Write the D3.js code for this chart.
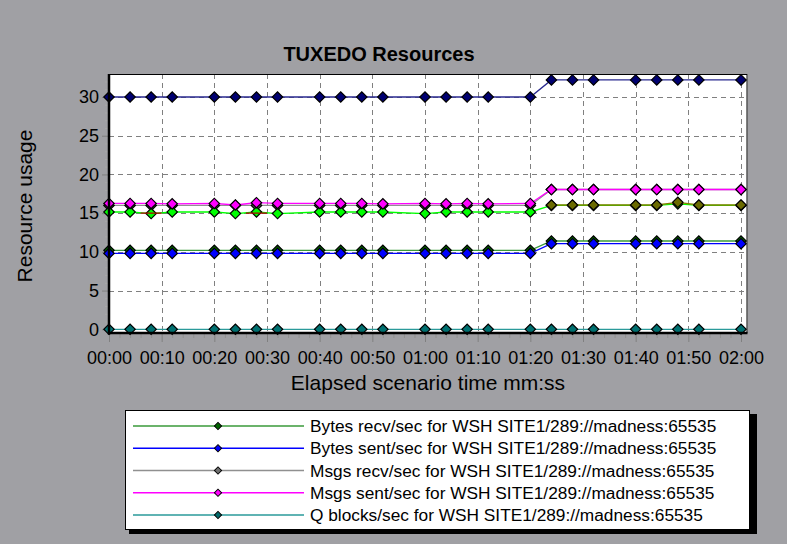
<!DOCTYPE html>
<html><head><meta charset="utf-8">
<script src="https://cdn.jsdelivr.net/npm/d3@7"></script>
<style>html,body{margin:0;padding:0;background:#a0a0a4;}svg{display:block;}text{font-family:Arial,"Liberation Sans",sans-serif;}</style>
</head><body>
<svg id="chart" width="787" height="544"></svg>
<script>
// ---- data ----
const times = [0,4,8,12,20,24,28,32,40,44,48,52,60,64,68,72,80,84,88,92,100,104,108,112,120];
const qBlocks   = [0,0,0,0,0,0,0,0,0,0,0,0,0,0,0,0,0,0,0,0,0,0,0,0,0];
const bytesRecv = [10.2,10.2,10.2,10.2,10.2,10.2,10.2,10.2,10.2,10.2,10.2,10.2,10.2,10.2,10.2,10.2,10.2,11.4,11.4,11.4,11.4,11.4,11.4,11.4,11.4];
const bytesSent = [9.8,9.8,9.8,9.8,9.8,9.8,9.8,9.8,9.8,9.8,9.8,9.8,9.8,9.8,9.8,9.8,9.8,11.05,11.05,11.05,11.05,11.05,11.05,11.05,11.05];
const msgsRecv  = [16.0,16.0,16.0,16.0,16.0,16.0,16.0,16.0,16.0,16.0,16.0,16.0,16.0,16.0,16.0,16.0,16.0,18.05,18.05,18.05,18.05,18.05,18.05,18.05,18.05];
const msgsSent  = [16.25,16.25,16.25,16.2,16.25,16.05,16.35,16.25,16.25,16.25,16.25,16.2,16.25,16.2,16.25,16.2,16.25,18.05,18.05,18.05,18.05,18.05,18.05,18.05,18.05];
const navyRate  = [30,30,30,30,30,30,30,30,30,30,30,30,30,30,30,30,30,32.2,32.2,32.2,32.2,32.2,32.2,32.2,32.2];
const greenRate = [15.15,15.15,14.95,15.15,15.15,14.95,15.15,14.95,15.15,15.15,15.15,15.15,14.95,15.15,15.15,15.15,15.15,16.0,16.0,16.0,16.0,16.0,16.2,16.0,16.0];
const oliveRate = [null,null,null,null,null,null,null,null,null,null,null,null,null,null,null,null,null,16.05,16.05,16.05,16.05,16.05,16.4,16.05,16.05];
const redTimes  = [6,10,22,26,30,36];
const redRate   = [15.0,15.0,null,15.0,15.0,null];
const xTickLabels = ["00:00","00:10","00:20","00:30","00:40","00:50","01:00","01:10","01:20","01:30","01:40","01:50","02:00"];
const yTicks = [0,5,10,15,20,25,30];
const legendNames = [
  "Bytes recv/sec for WSH SITE1/289://madness:65535",
  "Bytes sent/sec for WSH SITE1/289://madness:65535",
  "Msgs recv/sec for WSH SITE1/289://madness:65535",
  "Msgs sent/sec for WSH SITE1/289://madness:65535",
  "Q blocks/sec for WSH SITE1/289://madness:65535"
];
const legendLine   = ["#3a9a3a","#0000ff","#909090","#ff00ff","#2a9a9a"];
const legendMarker = ["#006400","#0000ff","#707070","#ff00ff","#006a6a"];

// ---- layout ----
const svg = d3.select("#chart");
const L = 109, R = 747.5, T = 74, B = 333;
const x = d3.scaleLinear().domain([0,120]).range([109,741]);
const y = d3.scaleLinear().domain([-0.48,32.97]).range([B,T]);

svg.append("rect").attr("x",0).attr("y",0).attr("width",787).attr("height",544).attr("fill","#a0a0a4");

// title
svg.append("text").attr("x",379).attr("y",61).attr("text-anchor","middle")
  .attr("font-size",20).attr("font-weight","bold").attr("fill","#000").text("TUXEDO Resources");

// plot background
svg.append("rect").attr("x",L).attr("y",T).attr("width",R-L).attr("height",B-T).attr("fill","#fff");

// grid
const grid = svg.append("g").attr("stroke","#808080").attr("stroke-width",1).attr("stroke-dasharray","5,4");
d3.range(10,121,10).forEach(t=>{
  grid.append("line").attr("x1",Math.round(x(t))+0.5).attr("x2",Math.round(x(t))+0.5).attr("y1",T).attr("y2",B);
});
yTicks.filter(v=>v>0).forEach(v=>{
  grid.append("line").attr("x1",L).attr("x2",R).attr("y1",Math.round(y(v))+0.5).attr("y2",Math.round(y(v))+0.5);
});

// axes
const yAxis = d3.axisLeft(y).tickValues(yTicks).tickSize(6).tickPadding(3).tickFormat(d3.format("d"));
const gy = svg.append("g").attr("transform",`translate(${L-1},0)`).call(yAxis);
gy.select(".domain").remove();
gy.selectAll(".tick line").attr("stroke","#808080");
gy.selectAll("text").attr("font-size",18).attr("fill","#000").attr("font-family","Arial, 'Liberation Sans', sans-serif");
const yMinor = d3.axisLeft(y).tickValues(d3.range(0,33,1).filter(v=>v%5!==0)).tickSize(3).tickFormat("");
const gym = svg.append("g").attr("transform",`translate(${L-1},0)`).call(yMinor);
gym.select(".domain").remove(); gym.selectAll(".tick line").attr("stroke","#a8a8a8");

const xAxis = d3.axisBottom(x).tickValues(d3.range(0,121,10)).tickSize(8).tickPadding(9)
  .tickFormat((d,i)=>xTickLabels[i]);
const gx = svg.append("g").attr("transform",`translate(0,${B+1})`).call(xAxis);
gx.select(".domain").remove();
gx.selectAll(".tick line").attr("stroke","#808080");
gx.selectAll("text").attr("font-size",18).attr("fill","#000").attr("font-family","Arial, 'Liberation Sans', sans-serif");
const xMinor = d3.axisBottom(x).tickValues(d3.range(0,121,2).filter(v=>v%10!==0)).tickSize(4).tickFormat("");
const gxm = svg.append("g").attr("transform",`translate(0,${B+1})`).call(xMinor);
gxm.select(".domain").remove(); gxm.selectAll(".tick line").attr("stroke","#909090");

// axis titles
svg.append("text").attr("x",428).attr("y",390).attr("text-anchor","middle").attr("font-size",21).attr("fill","#000")
  .text("Elapsed scenario time mm:ss");
svg.append("text").attr("transform","translate(32,206) rotate(-90)").attr("text-anchor","middle").attr("font-size",21).attr("fill","#000")
  .text("Resource usage");

// series
const plot = svg.append("g");
const markerPath = d3.symbol().type(d3.symbolSquare).size(2*5.2*5.2)();
function drawSeries(ts, vals, lineColor, markerColor, withMarkers){
  const pts = ts.map((t,i)=>({t, v: vals[i]}));
  const line = d3.line().defined(d=>d.v!==null).x(d=>x(d.t)).y(d=>y(d.v));
  plot.append("path").datum(pts).attr("d",line).attr("fill","none").attr("stroke",lineColor).attr("stroke-width",1.3);
  if(withMarkers){
    plot.append("g").selectAll("path").data(pts.filter(d=>d.v!==null)).join("path")
      .attr("transform",d=>`translate(${x(d.t)},${y(d.v)}) rotate(45)`)
      .attr("d", markerPath)
      .attr("fill",markerColor).attr("stroke","#000").attr("stroke-width",1.2);
  }
}
drawSeries(times, qBlocks, "#2a9a9a", "#007070", true);
drawSeries(times, bytesRecv, "#3a9a3a", "#006400", true);
drawSeries(times, bytesSent, "#0000ff", "#0000ff", true);
drawSeries(times, msgsRecv, "#909090", "#505050", true);
drawSeries(times, greenRate, "#00ff00", "#00ff00", true);
drawSeries(redTimes, redRate, "#b00000", null, false);
drawSeries(times, oliveRate, "#808000", "#6b6b00", true);
drawSeries(times, msgsSent, "#ff00ff", "#ff00ff", true);
drawSeries(times, navyRate, "#2a2a90", "#000070", true);

// frame
svg.append("rect").attr("x",L+0.5).attr("y",T+0.5).attr("width",R-L-1).attr("height",B-T-1)
  .attr("fill","none").attr("stroke","#000").attr("stroke-width",1);
svg.append("line").attr("x1",L).attr("x2",L).attr("y1",T).attr("y2",B+1.5).attr("stroke","#000").attr("stroke-width",2.5);
svg.append("line").attr("x1",L-1).attr("x2",R).attr("y1",B).attr("y2",B).attr("stroke","#000").attr("stroke-width",2.5);

// legend
const lg = svg.append("g");
lg.append("rect").attr("x",129).attr("y",414).attr("width",628).attr("height",120).attr("fill","#000");
lg.append("rect").attr("x",125.5).attr("y",410.5).attr("width",624).attr("height",119).attr("fill","#fff").attr("stroke","#000").attr("stroke-width",1);
const rowY = d3.scalePoint().domain(d3.range(legendNames.length)).range([426,515]);
legendNames.forEach((name,i)=>{
  const yy = rowY(i);
  lg.append("line").attr("x1",133).attr("x2",304).attr("y1",yy).attr("y2",yy).attr("stroke",legendLine[i]).attr("stroke-width",1.5);
  lg.append("path").attr("transform",`translate(218,${yy}) rotate(45)`)
    .attr("d", d3.symbol().type(d3.symbolSquare).size(2*3.6*3.6)())
    .attr("fill",legendMarker[i]).attr("stroke","#000").attr("stroke-width",1);
  lg.append("text").attr("x",310).attr("y",yy+6).attr("font-size",17.3).attr("fill","#000").text(name);
});
</script>
</body></html>
